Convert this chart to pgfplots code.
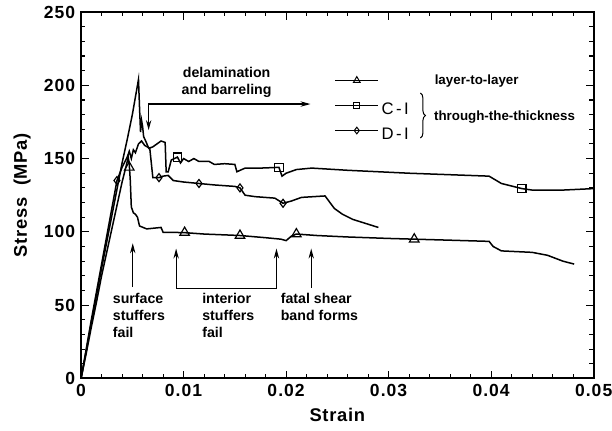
\documentclass[border=0pt]{standalone}
\usepackage{fontspec}
\setmainfont{Liberation Sans}
\usepackage{pgfplots}
\pgfplotsset{compat=1.18}
\usetikzlibrary{arrows.meta,decorations.pathreplacing}

\newcommand\tickf{\fontsize{10.5}{12}\selectfont\bfseries\addfontfeature{LetterSpace=6}}
\newcommand\labf{\fontsize{11}{13}\selectfont\bfseries\addfontfeature{LetterSpace=4}}
\newcommand\annf{\fontsize{8.5}{10.2}\selectfont\bfseries}
\newcommand\legf{\fontsize{8}{10}\selectfont\bfseries}

% stress-strain data
\pgfplotstableread{
x y
0 0
0.0005 17
0.001 35
0.0015 52
0.002 70
0.0025 86
0.003 102
0.0035 118
0.004 134
0.0044 145
0.0046 151
0.0047 146
0.0048 135
0.0049 117
0.0051 113
0.0053 112
0.0055 110
0.0057 104
0.0064 102
0.0078 103
0.0080 99.7
0.0100 99.5
0.0120 98.5
0.0155 97.5
0.0180 96
0.0195 95
0.0200 94
0.0205 97
0.0210 98.5
0.0230 97.5
0.0260 96.5
0.0300 95.5
0.0325 95
0.0360 94.3
0.0398 93.5
0.0402 90
0.0410 87
0.0440 86
0.0455 84
0.0470 80
0.0481 78
}\layer

\pgfplotstableread{
x y
0 0
0.0005 19
0.001 38
0.002 75
0.003 111
0.004 147
0.0045 163
0.005 180
0.0053 192
0.0056 204
0.0057 185
0.0058 168
0.0059 176
0.0060 172
0.0061 165
0.0063 162
0.0066 157
0.0070 158
0.0074 160
0.0078 162
0.0082 161
0.0083 141
0.0085 141
0.0088 149
0.0094 151
0.0097 147
0.0100 150
0.0105 148
0.0110 150
0.0115 148
0.0125 148
0.0130 146
0.0140 146.5
0.0150 146
0.0152 141
0.0160 143.5
0.0175 143.5
0.0193 144
0.0196 138
0.0200 140
0.0210 142.5
0.0225 143.5
0.0260 142
0.0320 140
0.0398 138
0.0410 133
0.0430 129.5
0.0440 128.5
0.0470 128.5
0.0500 129.5
}\ci

\pgfplotstableread{
x y
0 0
0.0005 20
0.001 40
0.002 78
0.0035 135
0.004 144
0.0045 151
0.0047 155
0.0049 150
0.0051 156
0.0053 154
0.0056 160
0.0059 162
0.0062 159
0.0067 157
0.0070 137
0.0076 137
0.0080 138
0.0085 138.5
0.0090 135
0.0100 134
0.0115 133
0.0130 132
0.0150 131
0.0155 130
0.0160 125
0.0170 124
0.0189 123
0.0197 119.5
0.0205 121
0.0215 123.5
0.0238 124.5
0.0247 116
0.0255 112
0.0265 108.5
0.0290 103
}\di

\begin{document}
\begin{tikzpicture}
\begin{axis}[
  name=ax,
  scale only axis,
  width=307.2pt, height=219.6pt,
  xmin=0, xmax=0.05, ymin=0, ymax=250,
  xtick={0,0.01,0.02,0.03,0.04,0.05},
  xticklabels={0,0.01,0.02,0.03,0.04,0.05},
  ytick={0,50,100,150,200,250},
  yticklabels={0,50,100,150,200,250},
  scaled x ticks=false,
  minor x tick num=4, minor y tick num=4,
  tick align=inside, tick pos=both,
  major tick length=4.5pt, minor tick length=2.5pt,
  every tick/.style={black, line width=0.7pt},
  axis line style={line width=1.1pt},
  tick label style={font=\tickf},
  xlabel={Strain}, ylabel={Stress\ \ (MPa)},
  label style={font=\labf},
  xlabel style={at={(axis description cs:0.5,-0.1)}, anchor=center},
  ylabel style={at={(axis description cs:-0.115,0.5)}, anchor=center},
  legend style={at={(axis cs:0.0247,182.8)}, anchor=west,
    draw=none, fill=none, inner sep=0pt, row sep=3pt,
    nodes={inner sep=1.5pt, text height=7pt, text depth=2pt},
    font=\fontsize{10}{12}\selectfont},
  legend cell align=left,
  legend image code/.code={\draw[mark repeat=2,mark phase=2,yshift=3pt]
    plot coordinates {(0pt,0pt)(12.9pt,0pt)(25.8pt,0pt)};},
  every axis plot/.append style={black, line width=0.9pt},
]
\addplot[forget plot] table {\layer};
\addplot[forget plot] table {\ci};
\addplot[forget plot] table {\di};

% markers
\addplot[forget plot, only marks, mark=triangle, mark size=3.3pt,
  mark options={fill=white, line width=0.7pt}] coordinates {
  (0.0047,144) (0.0101,99.5) (0.0155,97.5) (0.0210,98.5) (0.0325,95)};
\addplot[forget plot, only marks, mark=square, mark size=2.5pt,
  mark options={fill=white, line width=0.7pt}] coordinates {
  (0.0094,151) (0.0193,144) (0.0430,129.5)};
\addplot[forget plot, only marks, mark=diamond, mark size=2.4pt,
  mark options={fill=white, line width=0.7pt}] coordinates {
  (0.0035,135) (0.0076,137) (0.0115,133) (0.0155,130) (0.0197,119.5)};

% legend
\addlegendimage{black, line width=0.8pt, mark=triangle, mark size=2.3pt, mark options={fill=white, line width=0.6pt}}
\addlegendentry{\mbox{}}
\addlegendimage{black, line width=0.8pt, mark=square, mark size=1.9pt, mark options={fill=white, line width=0.6pt}}
\addlegendentry{C\kern1.5pt-\kern1.5pt I}
\addlegendimage{black, line width=0.8pt, mark=diamond, mark size=2pt, mark options={fill=white, line width=0.6pt}}
\addlegendentry{D\kern1.5pt-\kern1.5pt I}

\node[anchor=west, font=\legf, inner sep=0pt] at (axis cs:0.03447,203) {layer-to-layer};
\draw[line width=0.6pt, decorate, decoration={brace, amplitude=3pt}]
  (axis cs:0.0331,194.7) -- (axis cs:0.0331,164);
\node[anchor=west, font=\legf, inner sep=0pt] at (axis cs:0.0344,178.5) {through-the-thickness};

% annotations
\node[font=\annf, align=center, inner sep=0pt] at (axis cs:0.0142,202.2) {delamination\\and barreling};
\draw[{Stealth[length=6pt,width=3.2pt]}-{Stealth[length=6pt,width=3.2pt]}, line width=0.7pt]
  (axis cs:0.00659,169.4) |- (axis cs:0.02238,187.2);

\draw[-{Stealth[length=6pt,width=3.2pt]}, line width=0.7pt]
  (axis cs:0.00504,62.2) -- (axis cs:0.00504,92.2);
\draw[{Stealth[length=6pt,width=3.2pt]}-{Stealth[length=6pt,width=3.2pt]}, line width=0.7pt]
  (axis cs:0.00927,88.6) -- (axis cs:0.00927,61.3) -- (axis cs:0.01906,61.3) -- (axis cs:0.01906,88.6);
\draw[-{Stealth[length=6pt,width=3.2pt]}, line width=0.7pt]
  (axis cs:0.02245,62) -- (axis cs:0.02245,88.6);

\node[font=\annf, align=left, anchor=north west, inner sep=0pt] at (axis cs:0.00307,58.5) {surface\\stuffers\\fail};
\node[font=\annf, align=left, anchor=north west, inner sep=0pt] at (axis cs:0.01179,58.5) {interior\\stuffers\\fail};
\node[font=\annf, align=left, anchor=north west, inner sep=0pt] at (axis cs:0.01945,58.5) {fatal shear\\band forms};
\end{axis}
\pgfresetboundingbox
\path[use as bounding box] ([xshift=-48.6pt,yshift=-31.2pt]ax.south west)
  rectangle ([xshift=11pt,yshift=7.2pt]ax.north east);
\end{tikzpicture}
\end{document}
